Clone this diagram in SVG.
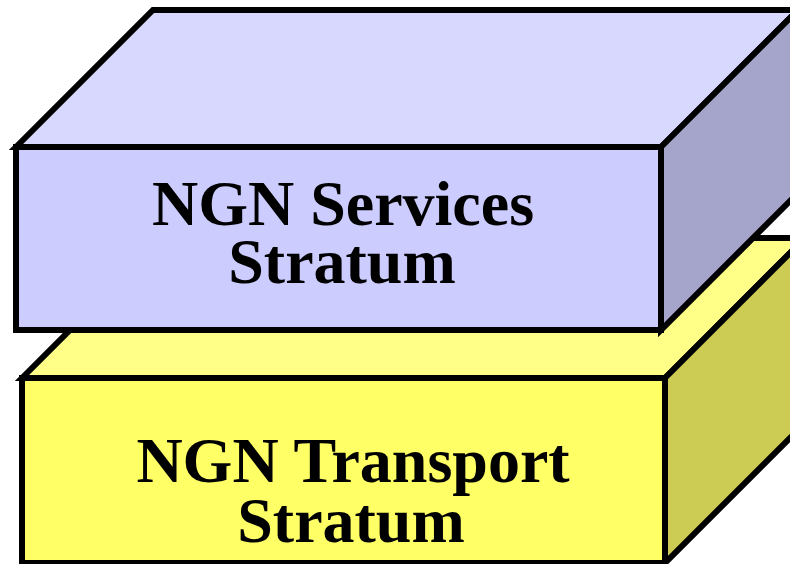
<svg xmlns="http://www.w3.org/2000/svg" width="790" height="564" viewBox="0 0 790 564">
  <style>
    .edge { stroke: #000; stroke-width: 6; stroke-linejoin: miter; }
    .label { font-family: "Liberation Serif", "Times New Roman", serif; font-weight: bold; font-size: 64px; fill: #000; text-anchor: middle; }
    .svc-top { fill: #D8D8FF; }
    .svc-front { fill: #CCCCFF; }
    .svc-side { fill: #A5A5CC; }
    .trn-top { fill: #FFFF88; }
    .trn-front { fill: #FFFF66; }
    .trn-side { fill: #CCCC55; }
  </style>
  <rect width="790" height="564" fill="#FFFFFF"/>

  <!-- lower block: transport stratum -->
  <g id="transport-stratum">
    <polygon class="trn-top edge" points="22,378 162,238 805,238 665,378"/>
    <polygon class="trn-side edge" points="665,378 805,238 805,423 665,563"/>
    <rect class="trn-front edge" x="22" y="378" width="643" height="185"/>
    <text class="label" x="353" y="482">NGN Transport</text>
    <text class="label" x="351" y="542">Stratum</text>
  </g>

  <!-- upper block: services stratum -->
  <g id="services-stratum">
    <polygon class="svc-top edge" points="16,147 153,10 798,10 661,147"/>
    <polygon class="svc-side edge" points="661,147 798,10 798,193 661,330"/>
    <rect class="svc-front edge" x="16" y="147" width="645" height="183"/>
    <text class="label" x="343" y="225">NGN Services</text>
    <text class="label" x="342" y="283">Stratum</text>
  </g>

  <g id="connectors"/>
</svg>
